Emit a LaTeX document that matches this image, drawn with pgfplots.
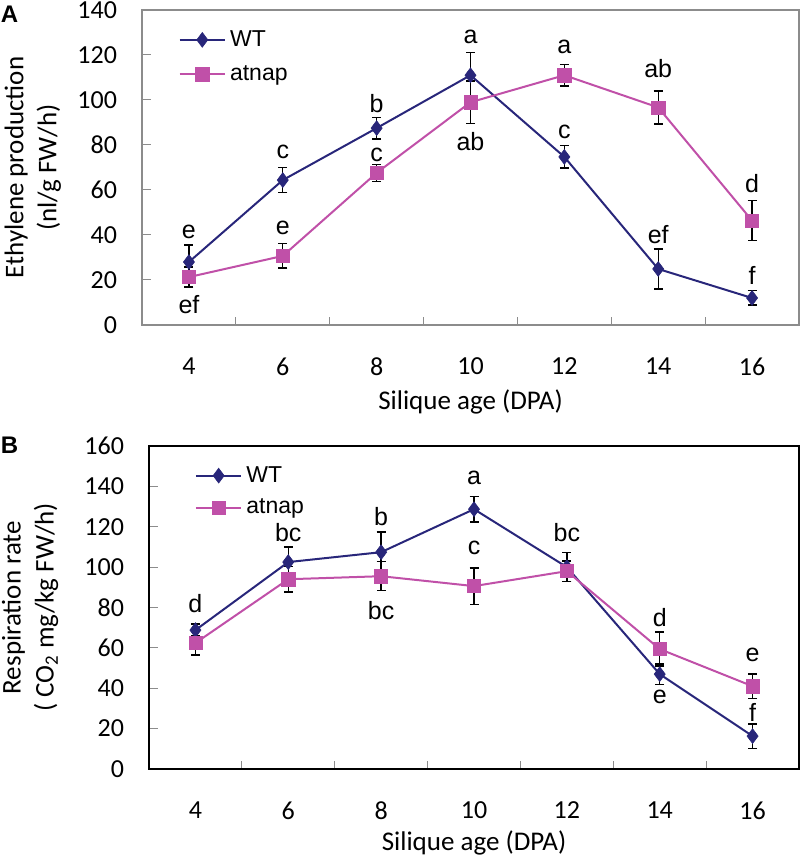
\documentclass[border=0pt]{standalone}
\usepackage{fontspec}
\setmainfont{Carlito}
\newfontfamily\arial{Liberation Sans}
\usepackage{pgfplots}
\usepackage{pgfplotstable}
\pgfplotsset{compat=1.18}
\definecolor{wtc}{RGB}{40,38,122}
\definecolor{atc}{RGB}{192,80,168}
\definecolor{framegray}{RGB}{140,140,140}

\pgfplotstableread{
x y e
4 28 7.5
6 64.4 5.6
8 87.5 4.8
10 111 10
12 74.7 5
14 24.9 8.9
16 12 3.2
}\topwt
\pgfplotstableread{
x y e
4 21.3 4.5
6 30.7 5.4
8 67.6 3.8
10 99 9.5
12 111 4.7
14 96.7 7.3
16 46.4 8.8
}\topat
\pgfplotstableread{
x y e
4 68.8 3
6 102.5 7.5
8 107.4 10
10 128.7 6.4
12 100 7.2
14 47 5
16 16.3 6
}\botwt
\pgfplotstableread{
x y e
4 62.4 6
6 94 6.4
8 95.5 7.2
10 90.6 9
12 98 5
14 59.4 8.4
16 41 6
}\botat

\tikzset{lett/.style={font=\arial\fontsize{12.5}{14}\selectfont, inner sep=0pt, anchor=center}}

\pgfplotsset{
  common/.style={
    scale only axis,
    xmin=3, xmax=17,
    xtick={4,6,...,16},
    minor xtick={5,7,...,15},
    major x tick style={draw=none},
    minor x tick style={framegray, line width=0.5pt},
    y tick style={framegray, line width=0.5pt},
    major tick length=4.5pt,
    minor tick length=4pt,
    tick align=inside,
    xtick pos=bottom, ytick pos=left,
    /pgf/number format/assume math mode=true,
    tick label style={font=\fontsize{13}{15}\selectfont},
    yticklabel style={xshift=-9pt},
    label style={font=\fontsize{13.5}{16.5}\selectfont},
    legend cell align=left,
    legend image code/.code={\draw[mark repeat=2,mark phase=2,##1] plot coordinates {(0cm,0cm) (0.4cm,0cm) (0.8cm,0cm)};},
  },
  ebar/.style={forget plot, only marks, mark=none,
    error bars/.cd, y dir=both, y explicit,
    error bar style={draw=black, line width=0.7pt},
    error mark options={rotate=90, draw=black, mark size=2.25pt, line width=0.7pt}},
  wtline/.style={color=wtc, line width=1pt, mark=diamond*, mark size=3.7pt, mark options={fill=wtc, draw=wtc, line width=0.3pt}},
  atline/.style={color=atc, line width=1pt, mark=square*, mark size=3.3pt, mark options={fill=atc, draw=atc, line width=0.3pt}},
}

\begin{document}
\begin{tikzpicture}
\path[use as bounding box] (0,0) rectangle (400pt,428.5pt);

\begin{axis}[common,
  at={(71pt,266pt)}, anchor=south west,
  width=328.5pt, height=157.5pt,
  ymin=0, ymax=140, ytick={0,20,...,140},
  axis line style={framegray, line width=0.6pt},
  xticklabel style={yshift=-12.7pt},
  xlabel={Silique age (DPA)},
  xlabel style={at={(axis description cs:0.5,0)}, anchor=center, yshift=-38.5pt},
  ylabel={Ethylene production\\(nl/g FW/h)},
  ylabel style={at={(axis description cs:-0.166,0.5)}, anchor=center, align=center},
  legend style={at={(axis description cs:0.055,0.949)}, anchor=north west, draw=none, fill=none,
    font=\arial\fontsize{11.5}{13}\selectfont, row sep=4pt, inner sep=0pt},
]
\addplot[ebar] table[x=x, y=y, y error=e] {\topwt};
\addplot[ebar] table[x=x, y=y, y error=e] {\topat};
\addplot[wtline] table[x=x, y=y] {\topwt};
\addplot[atline] table[x=x, y=y] {\topat};
\legend{WT, atnap}
\node[lett] at (axis cs:4,41.5) {e};
\node[lett] at (axis cs:6,77) {c};
\node[lett] at (axis cs:8,98.5) {b};
\node[lett] at (axis cs:10,128) {a};
\node[lett] at (axis cs:12,86) {c};
\node[lett] at (axis cs:14,40) {ef};
\node[lett] at (axis cs:16,21.8) {f};
\node[lett] at (axis cs:4,9) {ef};
\node[lett] at (axis cs:6,43) {e};
\node[lett] at (axis cs:8,75.5) {c};
\node[lett] at (axis cs:10,81.5) {ab};
\node[lett] at (axis cs:12,123.6) {a};
\node[lett] at (axis cs:14,114) {ab};
\node[lett] at (axis cs:16,63) {d};
\end{axis}

\begin{axis}[common,
  at={(74.5pt,44pt)}, anchor=south west,
  width=325pt, height=161.5pt,
  ymin=0, ymax=160, ytick={0,20,...,160},
  axis line style={black, line width=1.2pt},
  xticklabel style={yshift=-13pt},
  xlabel={Silique age (DPA)},
  xlabel style={at={(axis description cs:0.5,0)}, anchor=center, yshift=-37pt},
  ylabel={Respiration rate\\( CO\textsubscript{2} mg/kg FW/h)},
  ylabel style={at={(axis description cs:-0.183,0.5)}, anchor=center, align=center},
  legend style={at={(axis description cs:0.07,0.951)}, anchor=north west, draw=none, fill=none,
    font=\arial\fontsize{11.5}{13}\selectfont, row sep=3pt, inner sep=0pt},
]
\addplot[ebar] table[x=x, y=y, y error=e] {\botwt};
\addplot[ebar] table[x=x, y=y, y error=e] {\botat};
\addplot[wtline] table[x=x, y=y] {\botwt};
\addplot[atline] table[x=x, y=y] {\botat};
\legend{WT, atnap}
\node[lett] at (axis cs:4,82) {d};
\node[lett] at (axis cs:6,117) {bc};
\node[lett] at (axis cs:8,125) {b};
\node[lett] at (axis cs:10,144) {a};
\node[lett] at (axis cs:12,117) {bc};
\node[lett] at (axis cs:14,35.6) {e};
\node[lett] at (axis cs:16,28) {f};
\node[lett] at (axis cs:8,78.7) {bc};
\node[lett] at (axis cs:10,109.4) {c};
\node[lett] at (axis cs:14,75) {d};
\node[lett] at (axis cs:16,56.4) {e};
\end{axis}

\node[font=\arial\bfseries\fontsize{12}{14}\selectfont, inner sep=0pt] at (4.8pt,421.3pt) {A};
\node[font=\arial\bfseries\fontsize{12}{14}\selectfont, inner sep=0pt] at (4.8pt,206pt) {B};
\end{tikzpicture}
\end{document}
